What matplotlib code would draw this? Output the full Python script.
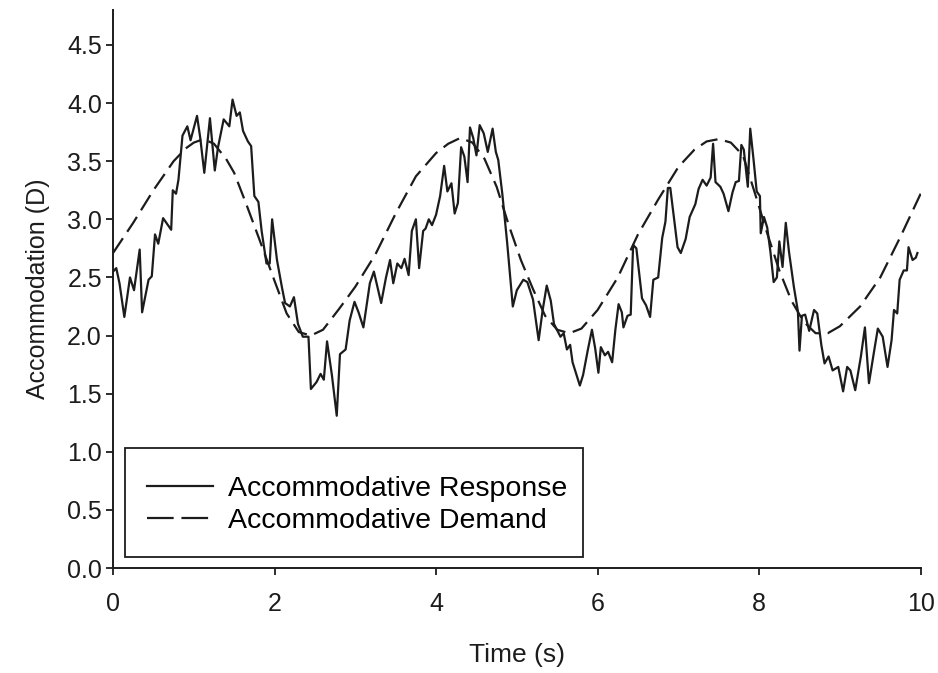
import matplotlib
matplotlib.use("Agg")
import matplotlib.pyplot as plt
from matplotlib.patches import Rectangle

# accommodative response trace (s, D)
resp_t = [0.00, 0.04, 0.08, 0.14, 0.21, 0.26, 0.33, 0.36, 0.44, 0.48,
          0.52, 0.56, 0.62, 0.67, 0.72, 0.74, 0.78, 0.81, 0.86, 0.92,
          0.96, 1.04, 1.08, 1.13, 1.20, 1.26, 1.30, 1.37, 1.44, 1.48,
          1.53, 1.57, 1.61, 1.67, 1.71, 1.75, 1.80, 1.84, 1.90, 1.94,
          1.97, 2.03, 2.09, 2.13, 2.19, 2.24, 2.29, 2.35, 2.42, 2.45,
          2.52, 2.57, 2.61, 2.65, 2.71, 2.77, 2.81, 2.88, 2.93, 2.99,
          3.04, 3.10, 3.18, 3.23, 3.32, 3.38, 3.43, 3.47, 3.52, 3.57,
          3.61, 3.66, 3.70, 3.75, 3.79, 3.84, 3.87, 3.91, 3.95, 4.00,
          4.05, 4.10, 4.14, 4.19, 4.23, 4.27, 4.31, 4.35, 4.39, 4.42,
          4.46, 4.50, 4.54, 4.59, 4.64, 4.70, 4.74, 4.77, 4.82, 4.88,
          4.95, 5.00, 5.08, 5.13, 5.20, 5.27, 5.32, 5.37, 5.42, 5.46,
          5.54, 5.58, 5.62, 5.66, 5.69, 5.73, 5.78, 5.82, 5.88, 5.93,
          5.97, 6.01, 6.04, 6.09, 6.13, 6.18, 6.22, 6.26, 6.30, 6.32,
          6.37, 6.41, 6.44, 6.48, 6.55, 6.60, 6.65, 6.69, 6.75, 6.80,
          6.84, 6.87, 6.90, 6.94, 6.99, 7.03, 7.09, 7.14, 7.21, 7.25,
          7.30, 7.35, 7.40, 7.43, 7.46, 7.52, 7.56, 7.62, 7.67, 7.71,
          7.75, 7.78, 7.81, 7.86, 7.89, 7.93, 7.97, 8.01, 8.02, 8.06,
          8.10, 8.14, 8.18, 8.22, 8.25, 8.29, 8.33, 8.37, 8.43, 8.48,
          8.50, 8.53, 8.57, 8.62, 8.68, 8.72, 8.77, 8.81, 8.86, 8.91,
          8.98, 9.04, 9.09, 9.13, 9.19, 9.26, 9.31, 9.36, 9.42, 9.47,
          9.53, 9.59, 9.64, 9.67, 9.71, 9.74, 9.79, 9.83, 9.85, 9.90,
          9.94, 9.96]
resp_v = [2.55, 2.58, 2.45, 2.16, 2.50, 2.39, 2.74, 2.20, 2.48, 2.51,
          2.87, 2.79, 3.01, 2.96, 2.91, 3.25, 3.22, 3.34, 3.72, 3.80,
          3.68, 3.89, 3.70, 3.40, 3.87, 3.42, 3.62, 3.86, 3.80, 4.03,
          3.89, 3.92, 3.76, 3.67, 3.63, 3.20, 3.15, 2.90, 2.62, 2.62,
          3.00, 2.65, 2.42, 2.28, 2.25, 2.33, 2.10, 1.99, 1.99, 1.54,
          1.60, 1.67, 1.62, 1.95, 1.66, 1.31, 1.84, 1.88, 2.13, 2.29,
          2.20, 2.07, 2.45, 2.55, 2.28, 2.50, 2.65, 2.45, 2.62, 2.58,
          2.66, 2.52, 2.90, 3.00, 2.58, 2.90, 2.92, 3.00, 2.95, 3.04,
          3.20, 3.46, 3.24, 3.31, 3.05, 3.14, 3.62, 3.54, 3.32, 3.79,
          3.70, 3.55, 3.81, 3.74, 3.58, 3.78, 3.58, 3.51, 3.22, 2.80,
          2.25, 2.39, 2.48, 2.46, 2.31, 1.96, 2.22, 2.43, 2.30, 2.10,
          1.99, 2.02, 1.88, 1.92, 1.77, 1.68, 1.57, 1.66, 1.88, 2.05,
          1.89, 1.68, 1.90, 1.83, 1.86, 1.77, 2.05, 2.27, 2.20, 2.07,
          2.17, 2.18, 2.78, 2.75, 2.32, 2.26, 2.16, 2.48, 2.50, 2.84,
          2.98, 3.27, 3.27, 3.04, 2.76, 2.71, 2.83, 3.02, 3.13, 3.26,
          3.34, 3.29, 3.36, 3.65, 3.32, 3.28, 3.22, 3.07, 3.23, 3.32,
          3.33, 3.64, 3.60, 3.28, 3.78, 3.52, 3.24, 3.20, 2.88, 3.02,
          2.93, 2.72, 2.46, 2.50, 2.81, 2.59, 2.97, 2.72, 2.42, 2.21,
          1.87, 2.17, 2.18, 2.04, 2.22, 2.19, 1.92, 1.76, 1.82, 1.70,
          1.73, 1.52, 1.73, 1.70, 1.53, 1.82, 2.07, 1.59, 1.85, 2.06,
          1.99, 1.73, 1.96, 2.22, 2.19, 2.48, 2.56, 2.56, 2.76, 2.65,
          2.67, 2.71]

# accommodative demand (stimulus) trace (s, D)
demand_t = [0.00, 0.25, 0.50, 0.75, 0.90, 1.00, 1.12, 1.25, 1.40, 1.50,
            1.65, 1.80, 2.00, 2.15, 2.30, 2.45, 2.60, 2.80, 3.00, 3.25,
            3.50, 3.75, 4.00, 4.15, 4.30, 4.45, 4.60, 4.75, 4.90, 5.05,
            5.20, 5.35, 5.50, 5.65, 5.80, 6.00, 6.25, 6.50, 6.75, 7.00,
            7.20, 7.35, 7.50, 7.65, 7.80, 7.95, 8.10, 8.25, 8.40, 8.55,
            8.70, 8.85, 9.00, 9.25, 9.50, 9.75, 10.00]
demand_v = [2.71, 2.97, 3.25, 3.50, 3.61, 3.66, 3.69, 3.65, 3.52, 3.40,
            3.13, 2.85, 2.47, 2.19, 2.03, 2.00, 2.05, 2.23, 2.42, 2.70,
            3.05, 3.37, 3.57, 3.65, 3.70, 3.66, 3.52, 3.28, 2.95, 2.65,
            2.40, 2.17, 2.05, 2.02, 2.06, 2.22, 2.50, 2.87, 3.17, 3.45,
            3.60, 3.67, 3.69, 3.66, 3.55, 3.22, 2.88, 2.56, 2.30, 2.12,
            2.02, 2.02, 2.08, 2.25, 2.50, 2.85, 3.22]

x_ticks = [0, 2, 4, 6, 8, 10]
y_ticks = [0.0, 0.5, 1.0, 1.5, 2.0, 2.5, 3.0, 3.5, 4.0, 4.5]

ink = "#1c1c1c"
plt.rcParams["font.family"] = ["Liberation Sans", "DejaVu Sans"]

fig = plt.figure(figsize=(9.38, 6.73), dpi=100)
ax = fig.add_axes([0.1205, 0.156, 0.861, 0.829])

ax.plot(resp_t, resp_v, color=ink, lw=1.6, label="Accommodative Response")
ax.plot(demand_t, demand_v, color=ink, lw=1.6, dashes=(8, 3.5),
        label="Accommodative Demand")

ax.set_xlim(0, 10)
ax.set_ylim(0, 4.8)
ax.set_xticks(x_ticks)
ax.set_xticklabels([str(v) for v in x_ticks])
ax.set_yticks(y_ticks)
ax.set_yticklabels(["%.1f" % v for v in y_ticks])

for side in ["top", "right"]:
    ax.spines[side].set_visible(False)
for side in ["left", "bottom"]:
    ax.spines[side].set_linewidth(1.4)
    ax.spines[side].set_color(ink)
ax.tick_params(direction="out", length=5, width=1.3, colors=ink,
               labelsize=18)
ax.tick_params(axis="y", pad=3)
ax.tick_params(axis="x", pad=12)

ax.set_xlabel("Time (s)", fontsize=19, color=ink, labelpad=20)
ax.set_ylabel("Accommodation (D)", fontsize=18, color=ink, labelpad=12)

# legend box drawn separately so it can be sized freely
ax.add_patch(Rectangle((0.015, 0.02), 0.567, 0.195, transform=ax.transAxes,
                       fill=False, edgecolor=ink, lw=1.3, zorder=3))
leg = ax.legend(loc="upper left", bbox_to_anchor=(0.028, 0.186),
                frameon=False, fontsize=20.5, handlelength=2.3,
                handletextpad=0.55, labelspacing=0.22, borderaxespad=0)
leg.get_lines()[1].set_dashes((12, 3.5))

fig.savefig("out.png", dpi=100)
